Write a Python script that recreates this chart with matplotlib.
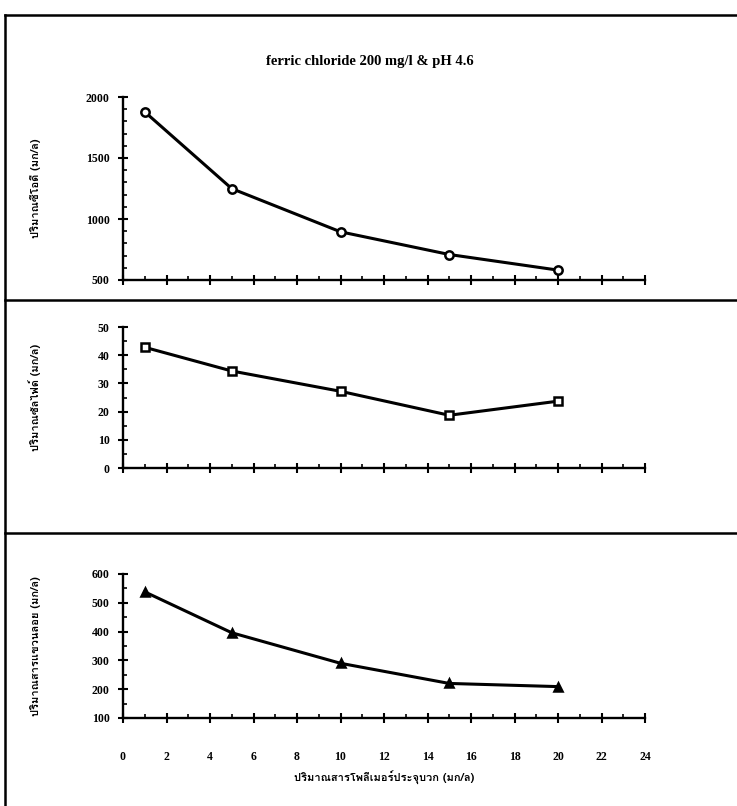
import matplotlib
matplotlib.use("Agg")
import matplotlib.pyplot as plt
from matplotlib import font_manager
from matplotlib.ticker import MultipleLocator, FixedLocator
from matplotlib.lines import Line2D

# ---- data -------------------------------------------------------------
dose = [1, 5, 10, 15, 20]
cod = [1878, 1249, 895, 709, 581]
sulfide = [42.8, 34.4, 27.2, 18.7, 23.7]
suspended = [538, 396, 290, 220, 209]

title_text = "ferric chloride 200 mg/l & pH 4.6"
ylabels = ["ปริมาณซีโอดี (มก/ล)", "ปริมาณซัลไฟด์ (มก/ล)", "ปริมาณสารแขวนลอย (มก/ล)"]
xlabel_text = "ปริมาณสารโพลีเมอร์ประจุบวก (มก/ล)"
xticks = list(range(0, 25, 2))


def thai_families():
    """Return installed families that carry Thai glyphs."""
    found = []
    try:
        from fontTools.ttLib import TTFont
    except Exception:
        return found
    for fe in font_manager.fontManager.ttflist:
        if fe.name in found:
            continue
        try:
            tt = TTFont(fe.fname, fontNumber=0, lazy=True)
            cmap = tt.getBestCmap() or {}
            if 0x0E01 in cmap and 0x0E21 in cmap:
                found.append(fe.name)
        except Exception:
            pass
    return found


thai = thai_families()
serif = "Liberation Serif"
label_family = thai[:1] + [serif, "DejaVu Sans"]

fig = plt.figure(figsize=(7.37, 8.06), dpi=100)
W, H = 737.0, 806.0


def px_axes(left, top, right, bottom):
    return fig.add_axes([left / W, 1 - bottom / H, (right - left) / W, (bottom - top) / H])


panels = [
    dict(box=(123, 97, 645, 280), y=cod, lim=(500, 2000), major=500, minor=100,
         marker="o", mfc="white"),
    dict(box=(123, 327, 645, 468), y=sulfide, lim=(0, 50), major=10, minor=5,
         marker="s", mfc="white"),
    dict(box=(123, 574, 645, 718), y=suspended, lim=(100, 600), major=100, minor=50,
         marker="^", mfc="black"),
]

for i, p in enumerate(panels):
    ax = px_axes(*p["box"])
    ax.plot(dose, p["y"], color="black", lw=2.2, marker=p["marker"], ms=6,
            mfc=p["mfc"], mec="black", mew=1.8, clip_on=False, zorder=3)
    ax.set_xlim(0, 24)
    ax.set_ylim(*p["lim"])
    for s in ("top", "right"):
        ax.spines[s].set_visible(False)
    for s in ("left", "bottom"):
        ax.spines[s].set_linewidth(1.7)
    ax.xaxis.set_major_locator(FixedLocator(xticks))
    ax.xaxis.set_minor_locator(MultipleLocator(1))
    ax.yaxis.set_major_locator(MultipleLocator(p["major"]))
    ax.yaxis.set_minor_locator(MultipleLocator(p["minor"]))
    ax.tick_params(axis="x", which="major", direction="inout", length=7, width=1.5)
    ax.tick_params(axis="x", which="minor", direction="in", length=3, width=1.2)
    ax.tick_params(axis="y", which="major", direction="inout", length=7, width=1.5)
    ax.tick_params(axis="y", which="minor", direction="in", length=3, width=1.2)
    ax.tick_params(axis="both", which="major", labelsize=8.5, pad=6)
    for t in ax.get_yticklabels():
        t.set_fontfamily(serif)
        t.set_fontweight("bold")
    if i < 2:
        ax.tick_params(axis="x", labelbottom=False)
    else:
        ax.tick_params(axis="x", pad=20)
        ax.set_xticklabels([str(v) for v in xticks], fontfamily=serif,
                           fontweight="bold", fontsize=8.5)
        ax.set_xlabel(xlabel_text, family=label_family, fontweight="bold",
                      fontsize=8, labelpad=6)
    ax.set_ylabel(ylabels[i], family=label_family, fontweight="bold", fontsize=8)
    ax.yaxis.set_label_coords(-82 / (p["box"][2] - p["box"][0]), 0.5)

fig.text(370 / W, 1 - 62 / H, title_text, ha="center", va="center",
         family=serif, fontweight="bold", fontsize=10.5)

# page frame and panel separators
frame = dict(color="black", lw=1.8, transform=fig.transFigure)
fig.add_artist(Line2D([5 / W, 5 / W], [0, 1 - 15 / H], **frame))
for yy in (15, 300, 533):
    fig.add_artist(Line2D([5 / W, 1], [1 - yy / H, 1 - yy / H], **frame))

fig.savefig("out.png", dpi=100, facecolor="white")
